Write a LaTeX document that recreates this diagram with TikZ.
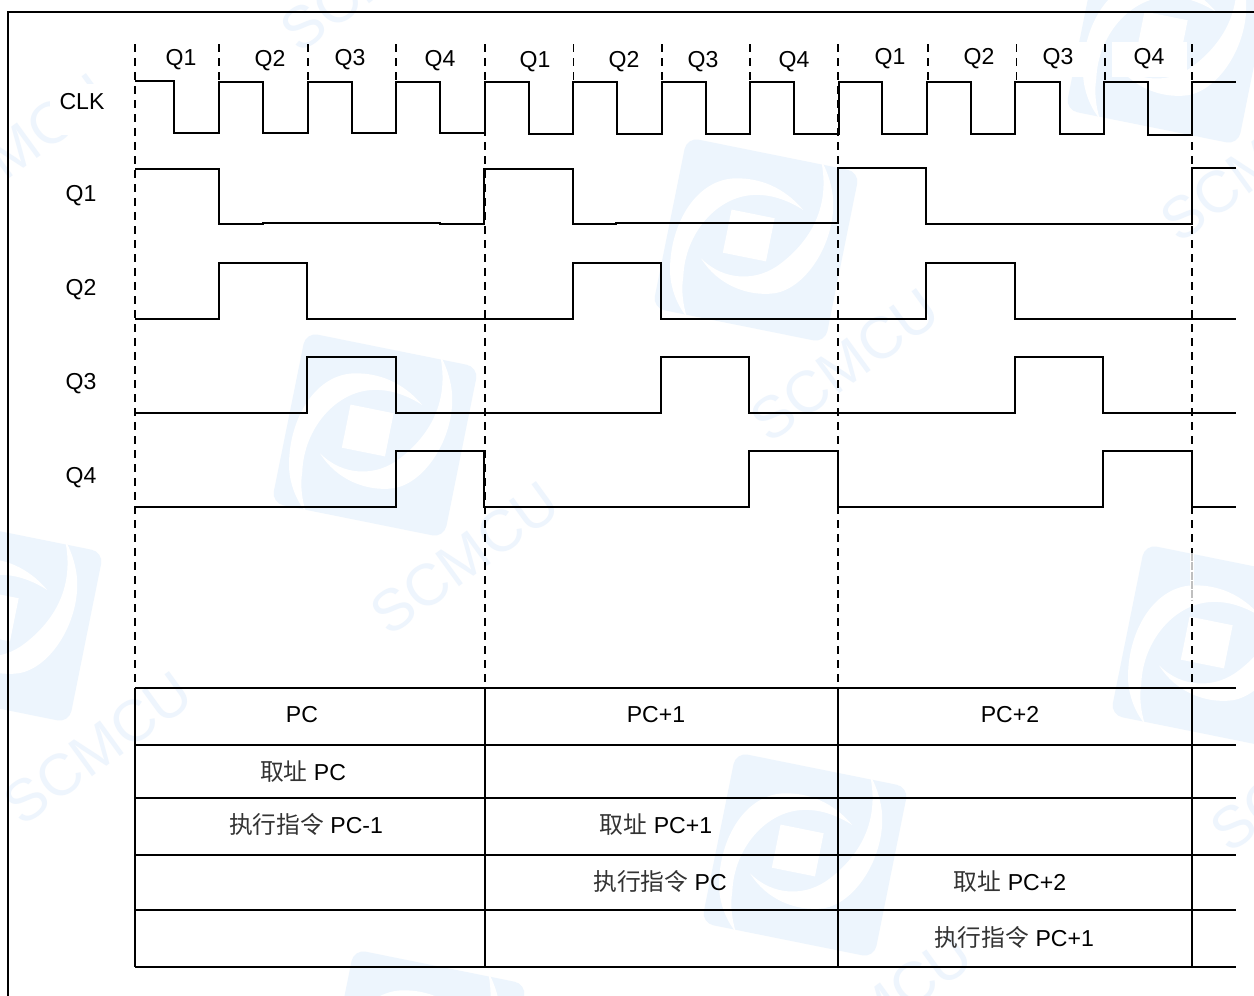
\documentclass[tikz,border=0pt]{standalone}
\usepackage{fontspec}
\setmainfont{Liberation Sans}
\newfontfamily\cjk[Scale=1.03]{Noto Sans CJK SC}
\definecolor{wmblue}{RGB}{237,245,253}
\definecolor{wmtext}{RGB}{238,245,253}
\newcommand{\wmlogo}[2]{%
  \begin{scope}[shift={(#1,#2)}]
    \begin{scope}[rotate=-11.4]
      \fill[wmblue,rounded corners=9pt] (-88,-87) rectangle (88,87);
      \fill[white] (-30,-25) rectangle (14,19);
    \end{scope}
    \fill[white] (47.3,-30) .. controls (27.3,-53.3) and (4,-61.7) .. (-19.3,-61.7)
      .. controls (-59.3,-61.7) and (-86,-16.7) .. (-86,30)
      .. controls (-86,46.7) and (-79.3,65) .. (-69.3,76.7)
      .. controls (-74.3,60) and (-74.3,46.7) .. (-72.7,36.7)
      .. controls (-71,-6.7) and (-39.3,-43.3) .. (-2.7,-45)
      .. controls (17.3,-46) and (34,-38.3) .. (47.3,-30) -- cycle;
    \fill[white] (-55,18.3) .. controls (-38.3,45) and (-8.3,56.7) .. (18.3,53.3)
      .. controls (51.7,48.3) and (81.7,-1.7) .. (76.7,-45)
      .. controls (75,-58.3) and (70,-71.7) .. (65,-80)
      .. controls (73.3,-41.7) and (61.7,-5) .. (25,23.3)
      .. controls (1.7,41.7) and (-31.7,41.7) .. (-55,18.3) -- cycle;
  \end{scope}}
\newcommand{\wmword}[2]{\node[wmword] at (#1,#2) {SCMCU};}
\tikzset{
  x=0.75pt,y=-0.75pt,
  sig/.style={line width=1.5pt,line join=miter,black},
  grid/.style={line width=1.5pt,black},
  dashv/.style={line width=1.4pt,black,dash pattern=on 6pt off 4.5pt},
  lbl/.style={anchor=base,inner sep=0pt,font=\fontsize{17.3}{18}\selectfont,text=black},
  wmword/.style={rotate=36,inner sep=0pt,text=wmtext,font=\fontsize{44}{46}\selectfont},
}
\begin{document}
\begin{tikzpicture}
\useasboundingbox (0,0) rectangle (1254,996);
\clip (0,0) rectangle (1254,996);
\fill[white] (0,0) rectangle (1254,996);
% watermark
\wmlogo{756}{240}
\wmlogo{375}{435}
\wmlogo{805}{855}
\wmlogo{1214}{647}
\wmlogo{0}{620}
\wmlogo{1169}{42}
\wmlogo{423}{1052}
\wmword{845}{365}
\wmword{465}{558}
\wmword{98}{748}
\wmword{878}{1010}
\wmword{1255}{165}
\wmword{1305}{775}
\wmword{375}{-25}
\wmword{15}{150}
% white patches behind labels
\fill[white] (50,84) rectangle (112,135);
\fill[white] (1040,42) rectangle (1095,77);
\fill[white] (1112,42) rectangle (1187,77);
% frame
\coordinate (ftr) at (1254,12);
\coordinate (ftl) at (8,12);
\coordinate (fbl) at (8,996);
\draw[grid] (ftr) -- (ftl) -- (fbl);
% dashed guides
\foreach \xx in {135,485,838,1192}{\draw[dashv] (\xx,44) -- (\xx,688);}
\foreach \xx in {219,308,396,573.5,662,750,928,1016.5,1105}{\draw[dashv] (\xx,44) -- (\xx,82);}
% faded stretch of the last guide
\fill[white] (1190,553) rectangle (1194,600);
\draw[black!25,line width=0.8pt,dash pattern=on 6pt off 1pt] (1192,553) -- (1192,600);
% CLK
\draw[sig] (135,81) -- (174,81) -- (174,133) -- (219,133) -- (219,82) -- (263,82) -- (263,133) -- (308,133) -- (308,82) -- (352,82) -- (352,133) -- (396,133) -- (396,82) -- (440,82) -- (440,133) -- (485,133)
  -- (485,81.5) -- (529,81.5) -- (529,133.5) -- (573,133.5) -- (573,82) -- (617,82) -- (617,133.5) -- (662,133.5) -- (662,82) -- (705.5,82) -- (705.5,133.5) -- (750,133.5) -- (750,82) -- (794,82) -- (794,134) -- (839,134)
  -- (839,82) -- (882,82) -- (882,134) -- (927,134) -- (927,82) -- (971,82) -- (971,134) -- (1015,134) -- (1015,82) -- (1060,82) -- (1060,134) -- (1104,134) -- (1104,82) -- (1148,82) -- (1148,134.5) -- (1192,134.5) -- (1192,82) -- (1236,82);
% Q1
\draw[sig] (135,169) -- (218.5,169) -- (218.5,224) -- (263,224) -- (263,223) -- (440,223) -- (440,224) -- (484,224)
  -- (484,169) -- (572.5,169) -- (572.5,224) -- (616,224) -- (616,223) -- (838,223)
  -- (838,168) -- (926,168) -- (926,223.5) -- (1191.5,223.5) -- (1191.5,168) -- (1236,168);
% Q2
\draw[sig] (135,319) -- (218.5,319) -- (218.5,263) -- (307,263) -- (307,319) -- (572.5,319) -- (572.5,263) -- (661,263) -- (661,319) -- (926,319) -- (926,263) -- (1014.5,263) -- (1014.5,319) -- (1236,319);
% Q3
\draw[sig] (135,412.5) -- (307,412.5) -- (307,357) -- (395.5,357) -- (395.5,412.5) -- (661,412.5) -- (661,357) -- (749,357) -- (749,412.5) -- (1014.5,412.5) -- (1014.5,357) -- (1103,357) -- (1103,412.5) -- (1236,412.5);
% Q4
\draw[sig] (135,507) -- (395.5,507) -- (395.5,451) -- (484,451) -- (484,507) -- (749,507) -- (749,451) -- (838,451) -- (838,507) -- (1103,507) -- (1103,451) -- (1191.5,451) -- (1191.5,507) -- (1236,507);
% table
\foreach \yy in {688,745,798,855,910,967}{\draw[grid] (135,\yy) -- (1236,\yy);}
\foreach \xx in {135,485,838,1192}{\draw[grid] (\xx,688) -- (\xx,967);}
% labels top row
\node[lbl] (ta1) at (181,65) {Q1};
\node[lbl] (ta2) at (270,66) {Q2};
\node[lbl] (ta3) at (350,65) {Q3};
\node[lbl] (ta4) at (440,66) {Q4};
\node[lbl] (tb1) at (535,67) {Q1};
\node[lbl] (tb2) at (624,67) {Q2};
\node[lbl] (tb3) at (703,67) {Q3};
\node[lbl] (tb4) at (794,67) {Q4};
\node[lbl] (tc1) at (890,64) {Q1};
\node[lbl] (tc2) at (979,64) {Q2};
\node[lbl] (tc3) at (1058,64) {Q3};
\node[lbl] (tc4) at (1149,64) {Q4};
% signal names
\node[lbl] (nclk) at (82,109) {CLK};
\node[lbl] (nq1) at (81,201) {Q1};
\node[lbl] (nq2) at (81,295) {Q2};
\node[lbl] (nq3) at (81,389) {Q3};
\node[lbl] (nq4) at (81,483) {Q4};
% table text
\node[lbl] (pc0) at (302,722) {PC};
\node[lbl] (pc1) at (656,722) {PC+1};
\node[lbl] (pc2) at (1010,722) {PC+2};
\node[lbl] (f0) at (303,780) {{\cjk\color{black!80} 取址} PC};
\node[lbl] (e0) at (306,833) {{\cjk\color{black!80} 执行指令} PC-1};
\node[lbl] (f1) at (656,833) {{\cjk\color{black!80} 取址} PC+1};
\node[lbl] (e1) at (660,890) {{\cjk\color{black!80} 执行指令} PC};
\node[lbl] (f2) at (1010,890) {{\cjk\color{black!80} 取址} PC+2};
\node[lbl] (e2) at (1014,946) {{\cjk\color{black!80} 执行指令} PC+1};
\end{tikzpicture}
\end{document}
